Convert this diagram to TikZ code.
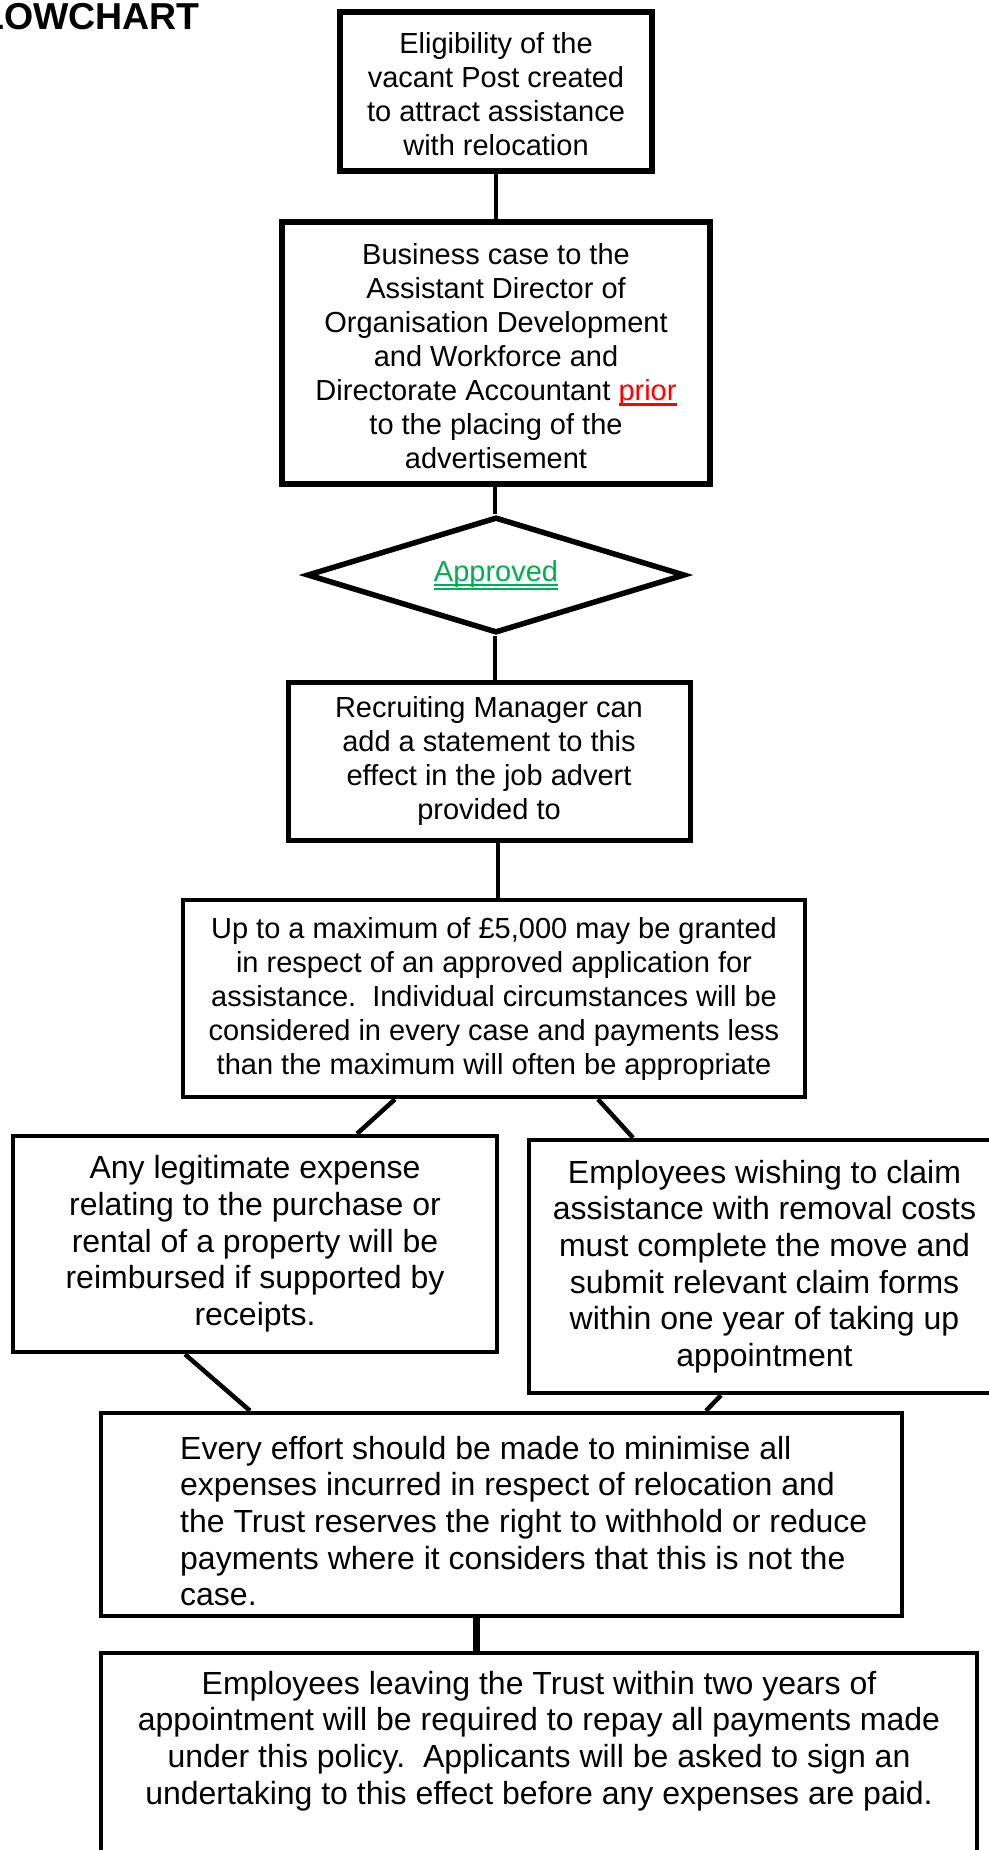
\documentclass[tikz,border=0pt]{standalone}
\usepackage{fontspec}
\setmainfont{Liberation Sans}
\usetikzlibrary{shapes.geometric}
\definecolor{okgreen}{HTML}{00B050}
\definecolor{prred}{HTML}{FF0000}
\newsavebox\ulbox
\newcommand\myul[2]{\sbox\ulbox{#2}\rlap{\raisebox{#1}{\rule{\wd\ulbox}{2.4pt}}}\usebox\ulbox}
\newcommand\mydul[1]{\sbox\ulbox{#1}\rlap{\raisebox{-4.5pt}{\rule{\wd\ulbox}{1.6pt}}}\rlap{\raisebox{-8.5pt}{\rule{\wd\ulbox}{1.6pt}}}\usebox\ulbox}
\begin{document}
\begin{tikzpicture}[x=1pt,y=-1pt,
  box/.style={draw, line width=4.5pt, rectangle, inner sep=0pt, align=center,
    font=\fontsize{29}{34}\selectfont},
  bigbox/.style={box, font=\fontsize{32}{36.7}\selectfont},
  txt/.style={inner sep=0pt, font=\fontsize{32}{36.7}\selectfont},
  link/.style={line width=4.5pt},
  thicklink/.style={line width=7pt}]
\useasboundingbox (0,0) rectangle (988,1850);
\fill[white] (0,0) rectangle (988,1850);

\node[anchor=base west, inner sep=0pt, font=\fontsize{37.5}{40}\selectfont\bfseries] (title) at (-42,29) {FLOWCHART};

\node[box, line width=5.5pt, minimum width=312pt, minimum height=159pt] (b1) at (496,91.5) {};
\node[inner sep=0pt, align=center, font=\fontsize{29}{34}\selectfont] (t1) at (496,94)
  {Eligibility of the\\vacant Post created\\to attract assistance\\with relocation};
\node[box, line width=5.5pt, minimum width=428pt, minimum height=262pt] (b2) at (496,353) {};
\node[inner sep=0pt, align=center, font=\fontsize{29}{34}\selectfont] (t2) at (496,356)
  {Business case to the\\Assistant Director of\\Organisation Development\\and Workforce and\\Directorate Accountant \textcolor{prred}{\myul{-5.5pt}{prior}}\\to the placing of the\\advertisement};
\node[draw, diamond, line width=5.5pt, inner sep=0pt, shape aspect=3.26, minimum width=378pt, minimum height=116pt,
  font=\fontsize{29}{34}\selectfont] (dia) at (496,575) {\raisebox{3pt}{\textcolor{okgreen}{\mydul{Approved}}}};
\node[box, line width=5pt, minimum width=402pt, minimum height=158pt] (b3) at (489,761)
  {Recruiting Manager can\\add a statement to this\\effect in the job advert\\provided to};
\node[box, minimum width=622pt, minimum height=197pt] (b4) at (494,998.5)
  {Up to a maximum of £5,000 may be granted\\in respect of an approved application for\\assistance.~~Individual circumstances will be\\considered in every case and payments less\\than the maximum will often be appropriate};
\node[bigbox, minimum width=484pt, minimum height=216pt] (b5) at (255,1244)
  {Any legitimate expense\\relating to the purchase or\\rental of a property will be\\reimbursed if supported by\\receipts.};
\node[bigbox, minimum width=471pt, minimum height=253pt] (b6) at (764.5,1266.5)
  {Employees wishing to claim\\assistance with removal costs\\must complete the move and\\submit relevant claim forms\\within one year of taking up\\appointment};
\node[bigbox, minimum width=801pt, minimum height=203pt] (b7) at (501.5,1514.5) {};
\node[txt, anchor=west, align=left] (t7) at (180,1521)
  {Every effort should be made to minimise all\\expenses incurred in respect of relocation and\\the Trust reserves the right to withhold or reduce\\payments where it considers that this is not the\\case.};
\node[bigbox, minimum width=876pt, minimum height=247pt] (b8) at (539,1776.5) {};
\node[txt, align=center] (t8) at (539,1741)
  {Employees leaving the Trust within two years of\\appointment will be required to repay all payments made\\under this policy.~~Applicants will be asked to sign an\\undertaking to this effect before any expenses are paid.};

\draw[link] (b1.south) -- (b2.north);
\draw[link] ([xshift=-1pt]b2.south) -- ([xshift=-1pt]dia.north);
\draw[link] ([xshift=-1pt]dia.south) -- ([xshift=-1pt]dia.south |- b3.north);
\draw[link] ([xshift=9pt]b3.south) -- ([xshift=9pt]b3.south |- b4.north);
\draw[link] ([xshift=-99pt]b4.south) -- ([xshift=102pt]b5.north);
\draw[link] ([xshift=104pt]b4.south) -- ([xshift=-131.5pt]b6.north);
\draw[link] ([xshift=-70pt]b5.south) -- ([xshift=-251.5pt]b7.north);
\draw[link] ([xshift=-43.5pt]b6.south) -- ([xshift=204.5pt]b7.north);
\draw[thicklink] ([xshift=-25.5pt]b7.south) -- ([xshift=-25.5pt]b7.south |- b8.north);
\end{tikzpicture}
\end{document}
